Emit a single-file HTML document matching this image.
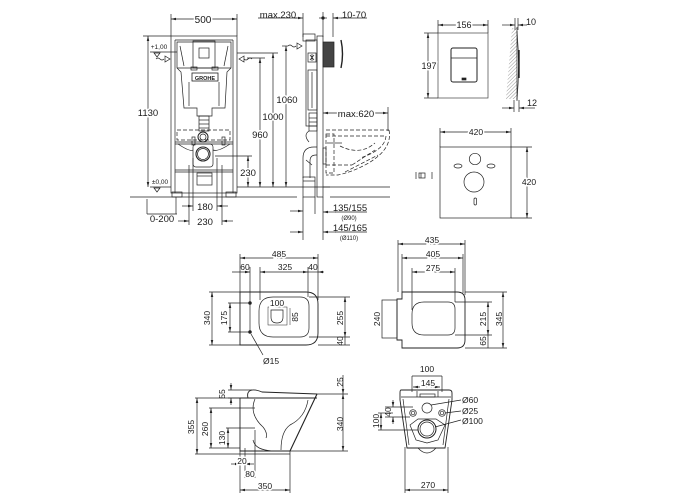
<!DOCTYPE html>
<html><head><meta charset="utf-8"><style>
html,body{margin:0;padding:0;background:#fff;}
svg{display:block;}
text{font-family:"Liberation Sans",sans-serif;fill:#1a1a1a;stroke:none;}
.t{stroke:#fff;stroke-width:3;paint-order:stroke;}
</style></head><body>
<svg width="700" height="500" viewBox="0 0 700 500" xmlns="http://www.w3.org/2000/svg">
<defs>
<marker id="a" viewBox="0 0 10 10" refX="10" refY="5" markerWidth="5" markerHeight="5" orient="auto-start-reverse" markerUnits="userSpaceOnUse"><path d="M0,2.5 L10,5 L0,7.5z" fill="#222"/></marker>
<pattern id="h" width="2.5" height="2.5" patternUnits="userSpaceOnUse" patternTransform="rotate(45)"><line x1="0" y1="0" x2="0" y2="2.5" stroke="#555" stroke-width="0.6"/></pattern>
</defs>
<g fill="none" stroke="#222" stroke-width="0.7">

<!-- ===== FRONT VIEW FRAME ===== -->
<line x1="171" y1="14" x2="171" y2="36"/><line x1="237" y1="14" x2="237" y2="36"/>
<line x1="171" y1="19" x2="237" y2="19" marker-start="url(#a)" marker-end="url(#a)"/>
<rect x="171" y="36" width="66" height="157"/>
<line x1="175" y1="40" x2="175" y2="193"/><line x1="233" y1="40" x2="233" y2="193"/>
<line x1="175" y1="40" x2="233" y2="40"/>
<rect x="172" y="192" width="10" height="5"/><rect x="226" y="192" width="10" height="5"/>
<!-- cistern -->
<path d="M177,42 H231 V68 L227,72 L225,108 H212 V116 H197 V108 H184 L181,72 L177,68 Z"/>
<line x1="177" y1="68" x2="231" y2="68"/>
<line x1="180" y1="46" x2="184" y2="66"/><line x1="228" y1="46" x2="224" y2="66"/>
<rect x="193" y="41" width="22" height="27"/>
<rect x="199" y="48" width="10" height="10"/>
<rect x="191" y="67" width="6" height="3"/><rect x="212" y="67" width="6" height="3"/>
<rect x="192" y="73" width="26" height="8" stroke-width="0.8"/>
<line x1="189" y1="82" x2="189" y2="106"/><line x1="219" y1="82" x2="219" y2="106"/>
<rect x="199" y="116" width="10" height="15"/>
<line x1="199" y1="120" x2="209" y2="120"/><line x1="199" y1="124" x2="209" y2="124"/><line x1="199" y1="128" x2="209" y2="128"/>
<circle cx="203" cy="137" r="5" stroke-width="1"/><circle cx="203" cy="137" r="3"/>
<rect x="177" y="130" width="53" height="10" stroke-dasharray="4,2"/>
<line x1="175" y1="142" x2="233" y2="142"/><line x1="175" y1="144" x2="233" y2="144"/>
<line x1="175" y1="170" x2="233" y2="170"/><line x1="175" y1="172" x2="233" y2="172"/>
<path d="M178,144 Q190,152 193,150"/><path d="M230,144 Q218,152 213,150"/>
<rect x="192" y="137" width="3" height="8"/><rect x="222" y="137" width="3" height="8"/>
<rect x="193" y="144" width="20" height="23" rx="3"/>
<circle cx="203" cy="154" r="7" stroke-width="1.1"/><circle cx="203" cy="154" r="5.5"/>
<rect x="197" y="173" width="15" height="12"/><line x1="197" y1="176" x2="212" y2="176"/>
<!-- left elevation marks -->
<line x1="150" y1="52" x2="177" y2="52"/>
<path d="M154,53 L160,53 L157,57 Z"/>
<path d="M156,59 q2,-2 4,0 q2,2 4,0"/><path d="M165,56 L170,59 L165,62 Z"/>
<line x1="150" y1="187" x2="171" y2="187"/>
<path d="M154,188 L160,188 L157,192 Z"/>
<!-- right water inlets -->
<path d="M252,59 q-2,-2 -4,0 q-2,2 -4,0"/><path d="M244,56 L239,59 L244,62 Z"/>
<line x1="247" y1="58" x2="265" y2="58"/>
<line x1="237" y1="53" x2="278" y2="53"/>
<path d="M288,46 q2,-2 4,0 q2,2 4,0"/><path d="M297,43 L302,46 L297,49 Z"/>
<line x1="282" y1="46" x2="288" y2="46"/>
<line x1="215" y1="156" x2="252" y2="156"/>
<line x1="237" y1="187" x2="330" y2="187"/>
<!-- floor -->
<line x1="130" y1="197" x2="297" y2="197"/>
<line x1="330" y1="197" x2="390" y2="197"/>
<!-- 1130 -->
<line x1="143" y1="36" x2="171" y2="36"/>
<line x1="148" y1="36" x2="148" y2="187" marker-start="url(#a)" marker-end="url(#a)"/>
<!-- 0-200 -->
<line x1="147" y1="199" x2="147" y2="214"/>
<line x1="147" y1="214" x2="177" y2="214"/>
<line x1="176" y1="197" x2="176" y2="214"/>
<!-- 180 / 230 -->
<line x1="193" y1="158" x2="193" y2="211"/><line x1="217" y1="158" x2="217" y2="211"/>
<line x1="189" y1="165" x2="189" y2="225"/><line x1="222" y1="165" x2="222" y2="225"/>
<line x1="182" y1="206" x2="193" y2="206" marker-end="url(#a)"/><line x1="228" y1="206" x2="217" y2="206" marker-end="url(#a)"/>
<line x1="178" y1="221" x2="189" y2="221" marker-end="url(#a)"/><line x1="233" y1="221" x2="222" y2="221" marker-end="url(#a)"/>
<!-- vertical dims right -->
<line x1="248" y1="156" x2="248" y2="187" marker-start="url(#a)" marker-end="url(#a)"/>
<line x1="260" y1="58" x2="260" y2="187" marker-start="url(#a)" marker-end="url(#a)"/>
<line x1="273" y1="53" x2="273" y2="187" marker-start="url(#a)" marker-end="url(#a)"/>
<line x1="286" y1="46" x2="286" y2="187" marker-start="url(#a)" marker-end="url(#a)"/>

<!-- ===== SIDE VIEW ===== -->
<line x1="258" y1="18" x2="297" y2="18"/>
<line x1="294" y1="18" x2="303" y2="18" marker-end="url(#a)"/>
<line x1="303" y1="13" x2="303" y2="37"/>
<line x1="323" y1="12" x2="323" y2="37"/>
<line x1="319" y1="18" x2="327" y2="18"/><circle cx="323" cy="18" r="1.3" fill="#222"/>
<line x1="342" y1="18" x2="333" y2="18" marker-end="url(#a)"/>
<line x1="341" y1="18" x2="367" y2="18"/>
<line x1="333" y1="13" x2="333" y2="37"/>
<rect x="317" y="36" width="6" height="161"/>
<rect x="306" y="40" width="11" height="86"/>
<rect x="303" y="34" width="12" height="7"/>
<rect x="308" y="53" width="8" height="9"/>
<path d="M310,55 l4,5 M314,55 l-4,5 M312,54 v7"/>
<rect x="308" y="70" width="9" height="40"/>
<line x1="312" y1="72" x2="312" y2="108"/>
<rect x="309" y="113" width="8" height="18"/>
<line x1="309" y1="118" x2="317" y2="118"/><line x1="309" y1="122" x2="317" y2="122"/><line x1="309" y1="126" x2="317" y2="126"/>
<path d="M309,131 Q303,135 309,142"/>
<path d="M303,178 V158 Q303,147 314,147 H317"/>
<path d="M310,178 V161 Q310,155 316,155 H317"/>
<line x1="306" y1="160" x2="312" y2="165"/>
<rect x="303" y="177" width="12" height="20"/>
<line x1="303" y1="181" x2="315" y2="181"/>
<rect x="323" y="148" width="3" height="16"/>
<rect x="323" y="42" width="11" height="25" fill="#444"/>
<path d="M341,40 Q344,54 341,68" stroke-width="1.4"/>
<!-- max.620 -->
<line x1="323" y1="113" x2="388" y2="113" marker-start="url(#a)" marker-end="url(#a)"/>
<line x1="388" y1="107" x2="388" y2="131"/>
<!-- dashed toilet -->
<g stroke-dasharray="4,2">
<path d="M326,130 H389"/><path d="M326,136 H386"/>
<path d="M389,130 Q393,150 365,165 Q352,172 338,175 H326"/>
<path d="M386,136 Q385,150 360,158"/>
<path d="M326,165 H352"/>
<rect x="326" y="134" width="8" height="39"/>
<path d="M352,165 L375,150"/><path d="M345,172 L378,155"/>
<path d="M340,146 Q360,156 375,143"/>
</g>
<line x1="327" y1="143" x2="342" y2="143"/>
<line x1="323" y1="187" x2="390" y2="187"/>
<!-- below-floor dims -->
<line x1="303" y1="197" x2="303" y2="240"/>
<line x1="315" y1="197" x2="315" y2="214"/>
<line x1="323" y1="197" x2="323" y2="240"/>
<line x1="290" y1="211" x2="303" y2="211" marker-end="url(#a)"/>
<line x1="336" y1="212" x2="323" y2="212" marker-end="url(#a)"/>
<line x1="335" y1="212" x2="367" y2="212"/>
<line x1="290" y1="232" x2="303" y2="232" marker-end="url(#a)"/>
<line x1="336" y1="232" x2="323" y2="232" marker-end="url(#a)"/>
<line x1="335" y1="232" x2="367" y2="232"/>

<!-- ===== FLUSH PLATE ===== -->
<line x1="438" y1="20" x2="438" y2="33"/><line x1="488" y1="20" x2="488" y2="33"/>
<line x1="438" y1="25" x2="488" y2="25" marker-start="url(#a)" marker-end="url(#a)"/>
<rect x="438" y="33" width="50" height="65" stroke="#444"/>
<line x1="424" y1="33" x2="438" y2="33"/><line x1="424" y1="98" x2="438" y2="98"/>
<line x1="428" y1="33" x2="428" y2="98" marker-start="url(#a)" marker-end="url(#a)"/>
<rect x="451" y="48" width="26" height="34" rx="2" stroke-width="1"/>
<line x1="451" y1="58" x2="477" y2="58"/>
<rect x="462" y="78" width="4" height="2" fill="#222"/>
<polygon points="512,28 517,28 517,99 506,99" fill="url(#h)" stroke="none"/>
<line x1="517" y1="27" x2="517" y2="101"/>
<path d="M517,31 Q520,66 517,100"/>
<line x1="519" y1="50" x2="519" y2="78" stroke-width="1.4"/>
<line x1="515" y1="18" x2="515" y2="30"/><line x1="518" y1="18" x2="518" y2="30"/>
<line x1="502" y1="25" x2="515" y2="25" marker-end="url(#a)"/>
<line x1="527" y1="25" x2="518" y2="25" marker-end="url(#a)"/>
<line x1="514" y1="100" x2="514" y2="112"/><line x1="519" y1="100" x2="519" y2="112"/>
<line x1="502" y1="108" x2="514" y2="108" marker-end="url(#a)"/>
<line x1="535" y1="108" x2="519" y2="108" marker-end="url(#a)"/>

<!-- ===== INSULATION MAT ===== -->
<line x1="440" y1="128" x2="440" y2="147"/><line x1="511" y1="128" x2="511" y2="147"/>
<line x1="440" y1="132" x2="511" y2="132" marker-start="url(#a)" marker-end="url(#a)"/>
<rect x="440" y="147" width="71" height="71"/>
<line x1="511" y1="147" x2="532" y2="147"/><line x1="511" y1="218" x2="532" y2="218"/>
<line x1="527" y1="147" x2="527" y2="218" marker-start="url(#a)" marker-end="url(#a)"/>
<circle cx="475" cy="159" r="5.7"/>
<ellipse cx="458" cy="166" rx="4" ry="2"/><ellipse cx="491" cy="166" rx="4" ry="2"/>
<circle cx="474" cy="182" r="10"/>
<rect x="474" y="198" width="2.5" height="7" rx="1.2"/>
<line x1="416" y1="172" x2="416" y2="179"/>
<rect x="419" y="173" width="6" height="5"/><line x1="421" y1="173" x2="421" y2="178"/>
<line x1="432" y1="172" x2="432" y2="179"/>

<!-- ===== TOP VIEW LEFT ===== -->
<line x1="240" y1="254" x2="240" y2="292"/><line x1="318" y1="254" x2="318" y2="300"/>
<line x1="240" y1="258" x2="318" y2="258" marker-start="url(#a)" marker-end="url(#a)"/>
<line x1="250" y1="267" x2="250" y2="333"/>
<line x1="260" y1="267" x2="260" y2="300"/>
<line x1="308" y1="267" x2="308" y2="297"/>
<line x1="232" y1="272" x2="250" y2="272" marker-end="url(#a)"/>
<line x1="260" y1="272" x2="308" y2="272" marker-start="url(#a)" marker-end="url(#a)"/>
<line x1="324" y1="272" x2="318" y2="272" marker-end="url(#a)"/>
<line x1="308" y1="272" x2="318" y2="272"/>
<path d="M240,292 H306 Q318,292 318,304 V333 Q318,345 306,345 H240 Z" stroke-width="0.9"/>
<line x1="209" y1="292" x2="240" y2="292"/><line x1="209" y1="345" x2="240" y2="345"/>
<line x1="212" y1="292" x2="212" y2="345" marker-start="url(#a)" marker-end="url(#a)"/>
<line x1="228" y1="303" x2="250" y2="303"/><line x1="228" y1="332" x2="250" y2="332"/>
<line x1="230" y1="303" x2="230" y2="332" marker-start="url(#a)" marker-end="url(#a)"/>
<circle cx="250" cy="303" r="1.4" fill="#222"/><circle cx="250" cy="332" r="1.4" fill="#222"/>
<path d="M273,297 H300 Q309,297 309,306 V328 Q309,337 300,337 H273 Q259,337 259,323 V311 Q259,297 273,297 Z"/>
<rect x="268" y="307" width="19" height="18" stroke-width="0.5"/>
<path d="M271,310 H283 V317 Q283,323 277,323 Q271,323 271,317 Z"/>
<line x1="290" y1="308" x2="290" y2="325" stroke-width="0.5"/>
<line x1="309" y1="297" x2="350" y2="297"/><line x1="309" y1="337" x2="350" y2="337"/><line x1="318" y1="345" x2="350" y2="345"/>
<line x1="345" y1="297" x2="345" y2="337" marker-start="url(#a)" marker-end="url(#a)"/>
<line x1="345" y1="337" x2="345" y2="345"/>
<line x1="251" y1="334" x2="263" y2="355"/>

<!-- ===== TOP VIEW RIGHT ===== -->
<line x1="398" y1="240" x2="398" y2="292"/><line x1="465" y1="240" x2="465" y2="295"/>
<line x1="398" y1="244" x2="465" y2="244" marker-start="url(#a)" marker-end="url(#a)"/>
<line x1="402" y1="254" x2="402" y2="292"/><line x1="463" y1="254" x2="463" y2="293"/>
<line x1="402" y1="258" x2="463" y2="258" marker-start="url(#a)" marker-end="url(#a)"/>
<line x1="412" y1="268" x2="412" y2="310"/><line x1="455" y1="268" x2="455" y2="302"/>
<line x1="412" y1="272" x2="455" y2="272" marker-start="url(#a)" marker-end="url(#a)"/>
<path d="M402,292 H457 Q465,292 465,300 V340 Q465,348 457,348 H402 V340 H397 V299 H402 Z" stroke-width="0.9"/>
<rect x="382" y="300" width="15" height="38"/>
<path d="M424,302 H448 Q455,302 455,309 V328 Q455,335 448,335 H424 Q412,335 412,323 V314 Q412,302 424,302 Z"/>
<line x1="465" y1="292" x2="507" y2="292"/><line x1="455" y1="302" x2="492" y2="302"/>
<line x1="455" y1="335" x2="492" y2="335"/><line x1="465" y1="348" x2="507" y2="348"/>
<line x1="488" y1="302" x2="488" y2="335" marker-start="url(#a)" marker-end="url(#a)"/>
<line x1="488" y1="335" x2="488" y2="348"/>
<line x1="503" y1="292" x2="503" y2="348" marker-start="url(#a)" marker-end="url(#a)"/>

<!-- ===== SIDE VIEW BOTTOM LEFT ===== -->
<path d="M240,398 H317" stroke-width="0.9"/>
<path d="M248,398 C246,390 252,388 262,392 L317,394" stroke-width="0.9"/>
<path d="M317,394 L290,451" stroke-width="1.1"/>
<path d="M240,398 V451 H290" stroke-width="0.9"/>
<path d="M255,399 C251,408 253,418 263,427 C267,432 267,436 266,438"/>
<path d="M253,440 C255,448 262,450 272,451"/>
<path d="M308,400 C306,412 300,420 290,425 C283,430 281,440 281,450"/>
<line x1="228" y1="390" x2="252" y2="390"/><line x1="228" y1="398" x2="240" y2="398"/>
<line x1="231" y1="383" x2="231" y2="390" marker-end="url(#a)"/>
<line x1="231" y1="405" x2="231" y2="398" marker-end="url(#a)"/>
<line x1="195" y1="398" x2="240" y2="398"/><line x1="195" y1="454" x2="290" y2="454"/>
<line x1="197" y1="398" x2="197" y2="454" marker-start="url(#a)" marker-end="url(#a)"/>
<line x1="209" y1="408" x2="255" y2="408"/>
<line x1="211" y1="408" x2="211" y2="448" marker-start="url(#a)" marker-end="url(#a)"/>
<line x1="209" y1="448" x2="240" y2="448"/>
<line x1="226" y1="428" x2="255" y2="428"/>
<line x1="228" y1="428" x2="228" y2="448" marker-start="url(#a)" marker-end="url(#a)"/>
<line x1="317" y1="394" x2="348" y2="394"/><line x1="290" y1="451" x2="348" y2="451"/>
<line x1="343" y1="394" x2="343" y2="451" marker-start="url(#a)" marker-end="url(#a)"/>
<line x1="343" y1="375" x2="343" y2="394" marker-end="url(#a)"/>
<line x1="240" y1="451" x2="240" y2="493"/><line x1="245" y1="448" x2="245" y2="478"/>
<line x1="255" y1="430" x2="255" y2="478"/><line x1="290" y1="451" x2="290" y2="493"/>
<line x1="231" y1="464" x2="240" y2="464" marker-end="url(#a)"/>
<line x1="254" y1="464" x2="245" y2="464" marker-end="url(#a)"/>
<line x1="245" y1="477" x2="255" y2="477"/>
<line x1="240" y1="490" x2="290" y2="490" marker-start="url(#a)" marker-end="url(#a)"/>

<!-- ===== FRONT VIEW BOTTOM RIGHT ===== -->
<line x1="412" y1="376" x2="412" y2="392"/><line x1="442" y1="376" x2="442" y2="392"/>
<line x1="412" y1="376" x2="442" y2="376"/>
<line x1="413" y1="387" x2="440" y2="387" marker-start="url(#a)" marker-end="url(#a)"/>
<path d="M401,390 H449 Q452,390 452,393 V400 L445,448 H407 L400,400 V393 Q400,390 401,390 Z" stroke-width="0.9"/>
<line x1="401" y1="397" x2="451" y2="397"/>
<path d="M403,399 L409,445"/><path d="M449,399 L443,445"/>
<path d="M418,448 Q427,458 436,448"/>
<rect x="420" y="394" width="15" height="3"/>
<line x1="417" y1="391" x2="417" y2="397"/><line x1="438" y1="391" x2="438" y2="397"/>
<polygon points="410,425 418,419 436,419 445,425 438,440 427,443 416,440"/>
<circle cx="427" cy="408" r="5"/>
<circle cx="413" cy="413" r="3.3"/><circle cx="413" cy="413" r="1.8"/>
<circle cx="442" cy="413" r="3.3"/><circle cx="442" cy="413" r="1.8"/>
<circle cx="427" cy="429" r="9" stroke-width="1"/><circle cx="427" cy="429" r="7"/>
<line x1="431" y1="405" x2="461" y2="400"/>
<line x1="445" y1="413" x2="461" y2="411"/>
<line x1="435" y1="427" x2="461" y2="420"/>
<line x1="385" y1="407" x2="413" y2="407"/><line x1="385" y1="417" x2="410" y2="417"/>
<line x1="393" y1="400" x2="393" y2="407" marker-end="url(#a)"/>
<line x1="393" y1="424" x2="393" y2="417" marker-end="url(#a)"/>
<line x1="378" y1="413" x2="393" y2="413"/><line x1="378" y1="430" x2="418" y2="430"/>
<line x1="381" y1="413" x2="381" y2="430" marker-start="url(#a)" marker-end="url(#a)"/>
<line x1="405" y1="447" x2="405" y2="493"/><line x1="448" y1="447" x2="448" y2="493"/>
<line x1="405" y1="490" x2="448" y2="490" marker-start="url(#a)" marker-end="url(#a)"/>
</g>

<!-- ===== TEXT ===== -->
<g font-size="10">
<text x="203" y="23" text-anchor="middle" class="t">500</text>
<text x="148" y="116" text-anchor="middle" class="t" font-size="9.5">1130</text>
<text x="162" y="222" text-anchor="middle" font-size="9.5">0-200</text>
<text x="205" y="210" text-anchor="middle" class="t" font-size="9.5">180</text>
<text x="205" y="225" text-anchor="middle" class="t" font-size="9.5">230</text>
<text x="248" y="176" text-anchor="middle" class="t" font-size="9.5">230</text>
<text x="260" y="138" text-anchor="middle" class="t" font-size="9.5">960</text>
<text x="273" y="120" text-anchor="middle" class="t" font-size="9.5">1000</text>
<text x="287" y="103" text-anchor="middle" class="t" font-size="9.5">1060</text>
<text x="278" y="18" text-anchor="middle" font-size="9.5">max.230</text>
<text x="354" y="18" text-anchor="middle" font-size="9.5">10-70</text>
<text x="356" y="117" text-anchor="middle" class="t" font-size="9.5">max.620</text>
<text x="350" y="211" text-anchor="middle" font-size="9.5">135/155</text>
<text x="349" y="220" text-anchor="middle" font-size="6">(Ø90)</text>
<text x="350" y="231" text-anchor="middle" font-size="9.5">145/165</text>
<text x="349" y="240" text-anchor="middle" font-size="6">(Ø110)</text>
<text x="159" y="49" text-anchor="middle" font-size="6.5">+1,00</text>
<text x="160" y="184" text-anchor="middle" font-size="6.5">±0,00</text>
<text x="205" y="80" text-anchor="middle" font-size="5.5" font-weight="bold">GROHE</text>
<text x="464" y="28" text-anchor="middle" class="t" font-size="9">156</text>
<text x="429" y="69" text-anchor="middle" class="t" font-size="9">197</text>
<text x="531" y="25" text-anchor="middle" font-size="9">10</text>
<text x="532" y="106" text-anchor="middle" font-size="9">12</text>
<text x="476" y="135" text-anchor="middle" class="t" font-size="8.5">420</text>
<text x="529" y="185" text-anchor="middle" class="t" font-size="8.5">420</text>
</g>
<g font-size="8.5">
<text x="279" y="257" text-anchor="middle" class="t">485</text>
<text x="245" y="270" text-anchor="middle">60</text>
<text x="285" y="270" text-anchor="middle" class="t">325</text>
<text x="313" y="270" text-anchor="middle">40</text>
<text transform="translate(207,318) rotate(-90)" text-anchor="middle" dy="3">340</text>
<text transform="translate(224,318) rotate(-90)" text-anchor="middle" dy="3">175</text>
<text x="277" y="306" text-anchor="middle" class="t">100</text>
<text transform="translate(295,317) rotate(-90)" text-anchor="middle" dy="3">85</text>
<text transform="translate(340,318) rotate(-90)" text-anchor="middle" dy="3">255</text>
<text transform="translate(340,341) rotate(-90)" text-anchor="middle" dy="3">40</text>
<text x="263" y="364">Ø15</text>
<text x="432" y="243" text-anchor="middle" class="t">435</text>
<text x="433" y="257" text-anchor="middle" class="t">405</text>
<text x="433" y="271" text-anchor="middle" class="t">275</text>
<text transform="translate(377,319) rotate(-90)" text-anchor="middle" dy="3">240</text>
<text transform="translate(483,319) rotate(-90)" text-anchor="middle" dy="3">215</text>
<text transform="translate(499,319) rotate(-90)" text-anchor="middle" dy="3">345</text>
<text transform="translate(483,341) rotate(-90)" text-anchor="middle" dy="3">65</text>
<text transform="translate(222,394) rotate(-90)" text-anchor="middle" dy="3">55</text>
<text transform="translate(191,427) rotate(-90)" text-anchor="middle" dy="3">355</text>
<text transform="translate(205,429) rotate(-90)" text-anchor="middle" dy="3">260</text>
<text transform="translate(222,438) rotate(-90)" text-anchor="middle" dy="3">130</text>
<text transform="translate(340,424) rotate(-90)" text-anchor="middle" dy="3">340</text>
<text transform="translate(340,382) rotate(-90)" text-anchor="middle" dy="3">25</text>
<text x="242" y="464" text-anchor="middle" class="t">20</text>
<text x="250" y="477" text-anchor="middle" class="t">80</text>
<text x="265" y="489" text-anchor="middle" class="t">350</text>
<text x="427" y="372" text-anchor="middle">100</text>
<text x="428" y="386" text-anchor="middle" class="t">145</text>
<text x="462" y="403">Ø60</text>
<text x="462" y="414">Ø25</text>
<text x="462" y="424">Ø100</text>
<text transform="translate(388,412) rotate(-90)" text-anchor="middle" dy="3">40</text>
<text transform="translate(376,421) rotate(-90)" text-anchor="middle" dy="3">100</text>
<text x="428" y="488" text-anchor="middle" class="t">270</text>
</g>
</svg>
</body></html>
